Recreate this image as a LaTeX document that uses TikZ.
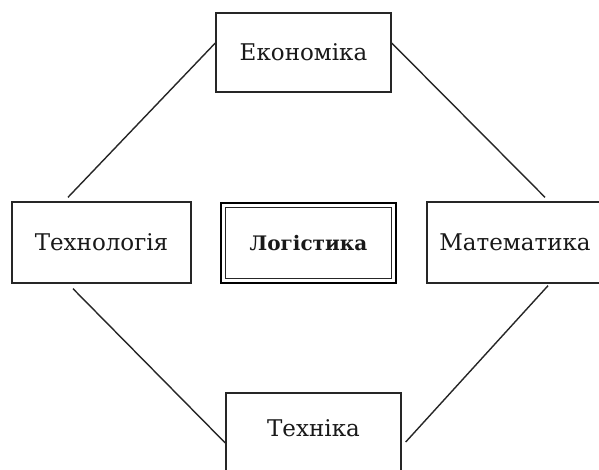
\documentclass[tikz,border=0pt]{standalone}
\usepackage{fontspec}
\setmainfont{DejaVu Serif}
\usetikzlibrary{calc}
\begin{document}
\begin{tikzpicture}[x=1pt,y=-1pt,
  lbl/.style={font=\fontsize{23}{27}\selectfont, text=black!90},
  box/.style={draw=black!85, line width=1.4pt, minimum width=#1, inner sep=0pt, lbl},
  link/.style={draw=black!85, line width=1.4pt}]
\useasboundingbox (0,0) rectangle (599,470);
\fill[white] (0,0) rectangle (599,470);
\begin{scope}
\clip (0,0) rectangle (599,470);
\node[box=175pt, minimum height=79pt] (eko) at (303.5,52.5) {Економіка};
\node[box=179pt, minimum height=81pt] (tech) at (101.5,242.5) {Технологія};
\node[box=175pt, minimum height=80pt, line width=2.8pt, draw=black, font=\fontsize{20}{24}\selectfont\bfseries] (log) at (308.5,243) {Логістика};
\draw[black!85, line width=0.9pt] ($(log.north west)+(6,6)$) rectangle ($(log.south east)+(-6,-6)$);
\node[box=176pt, minimum height=81pt] (mat) at (515,242.5) {Математика};
\node[box=175pt, minimum height=80pt] (tekh) at (313.5,433) {};
\node[lbl] (tekhlbl) at (313.5,428) {Техніка};
\draw[link] ([yshift=9.5pt]eko.west) -- ([xshift=-33.5pt,yshift=4pt]tech.north);
\draw[link] ([yshift=9.5pt]eko.east) -- ([xshift=30pt,yshift=4pt]mat.north);
\draw[link] ([xshift=-28.5pt,yshift=-5pt]tech.south) -- ([yshift=-10pt]tekh.west);
\draw[link] ([xshift=33pt,yshift=-2pt]mat.south) -- ([xshift=4pt,yshift=-9pt]tekh.east);
\end{scope}
\end{tikzpicture}
\end{document}
